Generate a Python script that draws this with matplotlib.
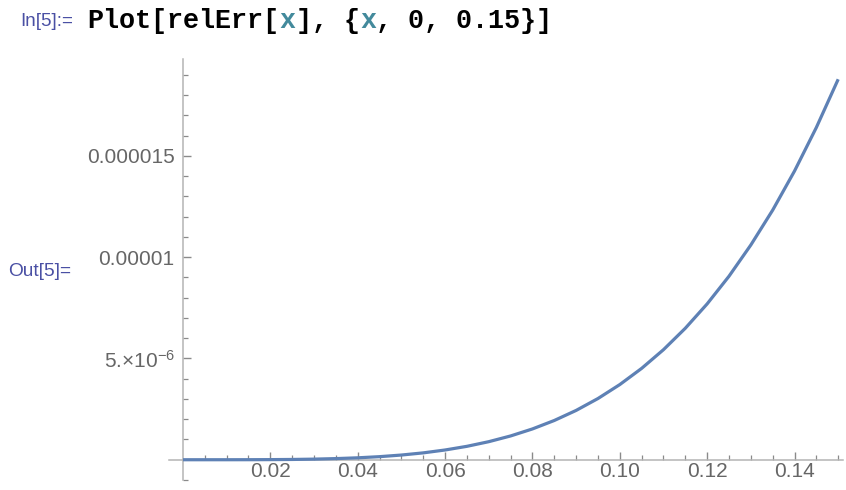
import numpy as np
import matplotlib
matplotlib.use("Agg")
from matplotlib import pyplot as plt
from matplotlib.ticker import FixedLocator, FixedFormatter

# values (relErr in units of 1e-6)
x_vals = [0.000, 0.005, 0.010, 0.015, 0.020, 0.025, 0.030, 0.035, 0.040, 0.045,
          0.050, 0.055, 0.060, 0.065, 0.070, 0.075, 0.080, 0.085, 0.090, 0.095,
          0.100, 0.105, 0.110, 0.115, 0.120, 0.125, 0.130, 0.135, 0.140, 0.145, 0.150]
err_e6 = [0.0, 0.00002, 0.0004, 0.002, 0.006, 0.014, 0.030, 0.056, 0.095, 0.152,
          0.232, 0.339, 0.481, 0.662, 0.891, 1.174, 1.520, 1.937, 2.434, 3.021,
          3.710, 4.509, 5.432, 6.490, 7.693, 9.058, 10.60, 12.32, 14.25, 16.40, 18.78]

x_major = [0.02, 0.04, 0.06, 0.08, 0.10, 0.12, 0.14]
x_labels = ["0.02", "0.04", "0.06", "0.08", "0.10", "0.12", "0.14"]
y_major = [5e-6, 1e-5, 1.5e-5]
y_labels = ["5.\u00d710$^{-6}$", "0.00001", "0.000015"]

plt.rcParams['font.family'] = ['Liberation Sans', 'DejaVu Sans']
plt.rcParams['mathtext.fontset'] = 'custom'
plt.rcParams['mathtext.rm'] = 'Liberation Sans'
plt.rcParams['mathtext.it'] = 'Liberation Sans'

line_col = '#5e81b5'
axis_col = '#b4b4b4'
tick_col = '#8a8a8a'
label_col = '#666666'
prompt_col = '#4a50a4'

fig = plt.figure(figsize=(8.46, 4.90), dpi=100)
ax = fig.add_axes([169/846, 10/490, 674/846, 421/490])

ax.plot(x_vals, np.array(err_e6)*1e-6, color=line_col, linewidth=2.3,
        solid_capstyle='butt', solid_joinstyle='round', clip_on=False, zorder=3)

ax.set_xlim(-0.0032, 0.1511)
ax.set_ylim(-1.0e-6, 1.978e-5)

for s in ['top', 'right']:
    ax.spines[s].set_visible(False)
ax.spines['left'].set_position(('data', 0))
ax.spines['bottom'].set_position(('data', 0))
for s in ['left', 'bottom']:
    ax.spines[s].set_color(axis_col)
    ax.spines[s].set_linewidth(1.1)

ax.xaxis.set_major_locator(FixedLocator(x_major))
ax.xaxis.set_major_formatter(FixedFormatter(x_labels))
ax.xaxis.set_minor_locator(FixedLocator([0.005*k for k in range(1, 31) if k % 4 != 0]))
ax.yaxis.set_major_locator(FixedLocator(y_major))
ax.yaxis.set_major_formatter(FixedFormatter(y_labels))
ax.yaxis.set_minor_locator(FixedLocator([1e-6*k for k in range(-1, 20) if k % 5 != 0]))

ax.tick_params(axis='both', which='major', direction='in', length=6, width=1.0,
               color=tick_col, labelcolor=label_col, labelsize=15)
ax.tick_params(axis='both', which='minor', direction='in', length=3.5, width=0.9,
               color=tick_col)
ax.tick_params(axis='x', which='major', pad=1.5)
ax.tick_params(axis='y', which='major', pad=6)

# notebook prompt text
fig.text(20/846, 1-21/490, "In[5]:=", color=prompt_col, fontsize=13.5, va='center', ha='left')
fig.text(8/846, 1-272/490, "Out[5]=", color=prompt_col, fontsize=13.8, va='center', ha='left')

mono = dict(family='Liberation Mono', weight='bold', fontsize=19.3, va='center')
parts = [("Plot[relErr[", 'black'), ("x", '#438a9c'), ("], {", 'black'),
         ("x", '#438a9c'), (", 0, 0.15}]", 'black')]
xpos = 87
char_w = 16.07
for txt, col in parts:
    fig.text(xpos/846, 1-21/490, txt, color=col, ha='left', **mono)
    xpos += len(txt)*char_w

fig.savefig("out.png", dpi=100, facecolor='white')
